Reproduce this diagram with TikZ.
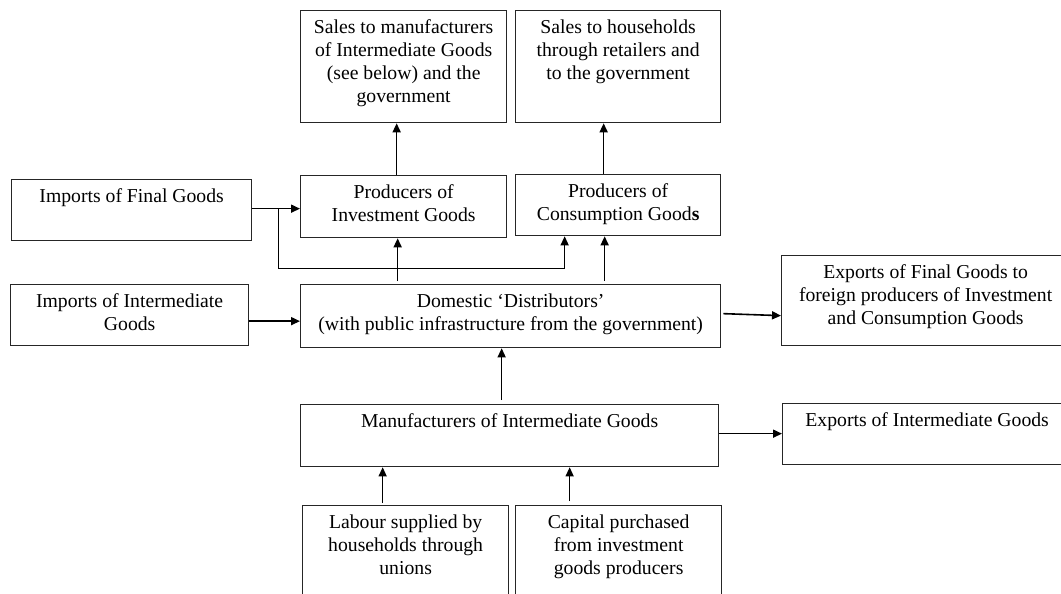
\documentclass[tikz,border=0pt]{standalone}
\usepackage{fontspec}
\setmainfont{Liberation Serif}
\usetikzlibrary{arrows.meta,calc}
\newcommand{\fst}{\rule{0pt}{16pt}}
\tikzset{
  box/.style={draw=black!85, line width=1.3pt, inner sep=0pt, anchor=north west},
  txt/.style={inner sep=0pt, align=center, anchor=north, font=\fontsize{19.7}{23}\selectfont},
  arr/.style={line width=1.6pt, -{Triangle[length=9pt,width=8pt]}},
  ln/.style={line width=1.3pt}
}
\newcommand{\bx}[6]{%
  \node[box, minimum width={(#4-#2)*1pt}, minimum height={(#5-#3)*1pt}] (#1) at (#2,#3) {};
  \node[txt] (#1-t) at ([yshift=-7.5pt]#1.north) {\fst #6};
}
\begin{document}
\begin{tikzpicture}[x=1pt,y=-1pt]
\useasboundingbox (0,0) rectangle (1061,594);
\clip (0,0) rectangle (1061,594);
\fill[white] (0,0) rectangle (1061,594);

\bx{smi}{300}{10}{506}{122}{Sales to manufacturers\\of Intermediate Goods\\(see below) and the\\government}
\bx{shh}{515}{10}{720}{122}{Sales to households\\through retailers and\\to the government}
\bx{imf}{11}{179}{251}{240}{Imports of Final Goods}
\bx{inv}{300}{175}{506}{237}{Producers of\\Investment Goods}
\bx{con}{515}{174}{720}{235}{Producers of\\Consumption Good\textbf{s}}
\bx{imi}{10}{284}{248}{345}{Imports of Intermediate\\Goods}
\bx{dis}{300}{284}{720}{347}{Domestic ‘Distributors’\\(with public infrastructure from the government)}
\bx{exf}{781}{255}{1069}{345}{Exports of Final Goods to\\foreign producers of Investment\\and Consumption Goods}
\bx{man}{300}{404}{718}{466}{Manufacturers of Intermediate Goods}
\bx{exi}{782}{403}{1071}{464}{Exports of Intermediate Goods}
\bx{lab}{302}{505}{508}{640}{Labour supplied by\\households through\\unions}
\bx{cap}{515}{505}{721}{640}{Capital purchased\\from investment\\goods producers}

% upward flows to sales
\draw[arr] ([xshift=-7pt]inv.north) -- ([xshift=-7pt]smi.south);
\draw[arr] ([xshift=-14.5pt]con.north) -- ([xshift=-14.5pt]shh.south);

% imports of final goods
\draw[arr] ([yshift=1.5pt]imf.east) -- ([yshift=1.5pt]imf.east -| inv.west);
\draw[arr, line width=1.3pt] ($(imf.east)+(26,-1.5)$) -- ++(0,60) -| ($(con.south)+(-53.5,0)$);

% distributors to producers
\draw[arr] ($(inv.south |- dis.north)+(-6,-3)$) -- ($(inv.south)+(-6,0)$);
\draw[arr] ($(con.south |- dis.north)+(-13.5,-3)$) -- ($(con.south)+(-13.5,0)$);

% imports of intermediate goods
\draw[arr] ([yshift=-6pt]imi.east) -- ([yshift=-6pt]imi.east -| dis.west);

% distributors to exports
\draw[arr] ([xshift=2pt,yshift=2.5pt]dis.east) -- ([yshift=-15pt]exf.west);

% manufacturers
\draw[arr, line width=1.3pt] ([xshift=-8pt,yshift=4pt]man.north) -- ([xshift=-9pt]dis.south);
\draw[arr] ([yshift=2pt]man.east) -- ([yshift=2pt]man.east -| exi.west);

% inputs
\draw[arr, line width=1.2pt] ([xshift=-23pt,yshift=2pt]lab.north) -- ($(man.south)+(-127,0)$);
\draw[arr, line width=1.2pt] ([xshift=-49pt,yshift=4pt]cap.north) -- ($(man.south)+(60,0)$);
\end{tikzpicture}
\end{document}
